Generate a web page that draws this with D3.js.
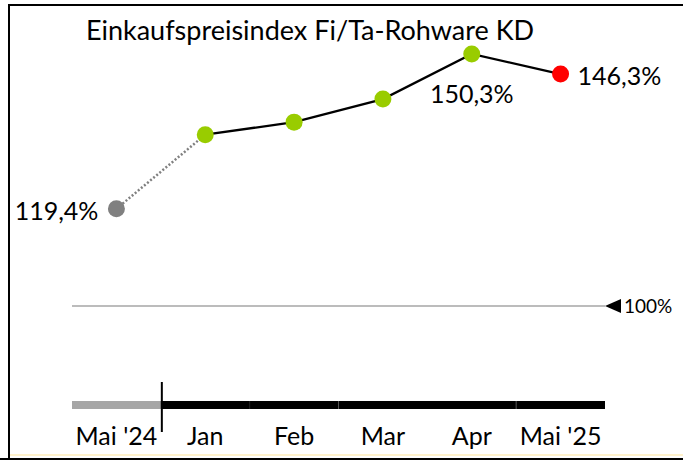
<!DOCTYPE html>
<html>
<head>
<meta charset="utf-8">
<script src="https://cdn.jsdelivr.net/npm/d3@7"></script>
<style>
  body { margin: 0; background: #fff; }
  svg { display: block; font-family: Lato, "Open Sans", sans-serif; }
</style>
</head>
<body>
<div id="chart"></div>
<script>
var width = 683,
    height = 460;

// data
var months = ["Mai '24", "Jan", "Feb", "Mar", "Apr", "Mai '25"];
var values = [119.4, 134.2, 136.7, 141.3, 150.3, 146.3];
var pointColors = ["#808080", "#99cc00", "#99cc00", "#99cc00", "#99cc00", "#ff0000"];
var labelText = ["119,4%", null, null, null, "150,3%", "146,3%"];
var refValue = 100;
var refLabel = "100%";
var title = "Einkaufspreisindex Fi/Ta-Rohware KD";

var svg = d3.select("#chart")
    .append("svg")
    .attr("width", width)
    .attr("height", height);

// frame
svg.append("rect").attr("x", 0).attr("y", 0).attr("width", width).attr("height", height).style("fill", "#fff");
svg.append("line").attr("x1", 9).attr("x2", width).attr("y1", 5).attr("y2", 5).style("stroke", "#000").style("stroke-width", 2);
svg.append("line").attr("x1", 9).attr("x2", 9).attr("y1", 4).attr("y2", height).style("stroke", "#000").style("stroke-width", 2);
svg.append("line").attr("x1", 10).attr("x2", width).attr("y1", 455).attr("y2", 455).style("stroke", "#fff2cc").style("stroke-width", 2);
svg.append("line").attr("x1", 0).attr("x2", width).attr("y1", 459).attr("y2", 459).style("stroke", "#000").style("stroke-width", 2);

var x = d3.scaleBand().domain(months).range([72, 605]).padding(0);
var y = d3.scaleLinear().domain([100, 150.3]).range([306, 54]);

function cx(i) { return x(months[i]) + x.bandwidth() / 2; }

// title
svg.append("text")
    .attr("x", 310)
    .attr("y", 40)
    .style("text-anchor", "middle")
    .style("font-size", "27px")
    .style("fill", "#000")
    .text(title);

// 100% reference line
svg.append("line")
    .attr("x1", x.range()[0])
    .attr("x2", x.range()[1])
    .attr("y1", y(refValue))
    .attr("y2", y(refValue))
    .style("stroke", "#a6a6a6")
    .style("stroke-width", 1.5);

var tx = x.range()[1];
svg.append("path")
    .attr("d", "M" + tx + "," + y(refValue) + "L" + (tx + 16) + "," + (y(refValue) - 7) + "L" + (tx + 16) + "," + (y(refValue) + 7) + "Z")
    .style("fill", "#000");
svg.append("text")
    .attr("x", tx + 19)
    .attr("y", y(refValue) + 7)
    .style("font-size", "19px")
    .text(refLabel);

// dotted part
svg.append("line")
    .attr("x1", cx(0)).attr("y1", y(values[0]))
    .attr("x2", cx(1)).attr("y2", y(values[1]))
    .style("stroke", "#808080")
    .style("stroke-width", 2.5)
    .style("stroke-dasharray", "2,2");

// solid part
var line = d3.line()
    .x(function (d, i) { return cx(i + 1); })
    .y(function (d) { return y(d); });

svg.append("path")
    .datum(values.slice(1))
    .attr("d", line)
    .style("fill", "none")
    .style("stroke", "#000")
    .style("stroke-width", 2.25);

svg.selectAll(".dot")
    .data(values)
    .enter().append("circle")
    .attr("class", "dot")
    .attr("cx", function (d, i) { return cx(i); })
    .attr("cy", function (d) { return y(d); })
    .attr("r", 8.5)
    .style("fill", function (d, i) { return pointColors[i]; });

// value labels
svg.append("text")
    .attr("x", cx(0) - 18)
    .attr("y", y(values[0]) + 11)
    .style("text-anchor", "end")
    .style("font-size", "25px")
    .text(labelText[0]);

svg.append("text")
    .attr("x", cx(4))
    .attr("y", y(values[4]) + 49)
    .style("text-anchor", "middle")
    .style("font-size", "25px")
    .text(labelText[4]);

svg.append("text")
    .attr("x", cx(5) + 17)
    .attr("y", y(values[5]) + 11)
    .style("text-anchor", "start")
    .style("font-size", "25px")
    .text(labelText[5]);

// time bar
var barY = 401, barH = 8;
svg.append("rect")
    .attr("x", x(months[0]))
    .attr("y", barY)
    .attr("width", x.bandwidth())
    .attr("height", barH)
    .style("fill", "#a6a6a6");
svg.append("rect")
    .attr("x", x(months[1]))
    .attr("y", barY)
    .attr("width", x.range()[1] - x(months[1]))
    .attr("height", barH)
    .style("fill", "#000");

[2, 3, 5].forEach(function (i) {
    svg.append("line")
        .attr("x1", x(months[i])).attr("x2", x(months[i]))
        .attr("y1", barY).attr("y2", barY + barH)
        .style("stroke", i === 2 ? "#222" : "#555")
        .style("stroke-width", 1);
});

svg.append("line")
    .attr("x1", x(months[1]) + 1).attr("x2", x(months[1]) + 1)
    .attr("y1", 382).attr("y2", 432)
    .style("stroke", "#000")
    .style("stroke-width", 2);

svg.selectAll(".mlabel")
    .data(months)
    .enter().append("text")
    .attr("class", "mlabel")
    .attr("x", function (d) { return x(d) + x.bandwidth() / 2; })
    .attr("y", 445)
    .style("text-anchor", "middle")
    .style("font-size", "25px")
    .text(function (d) { return d; });
</script>
</body>
</html>
